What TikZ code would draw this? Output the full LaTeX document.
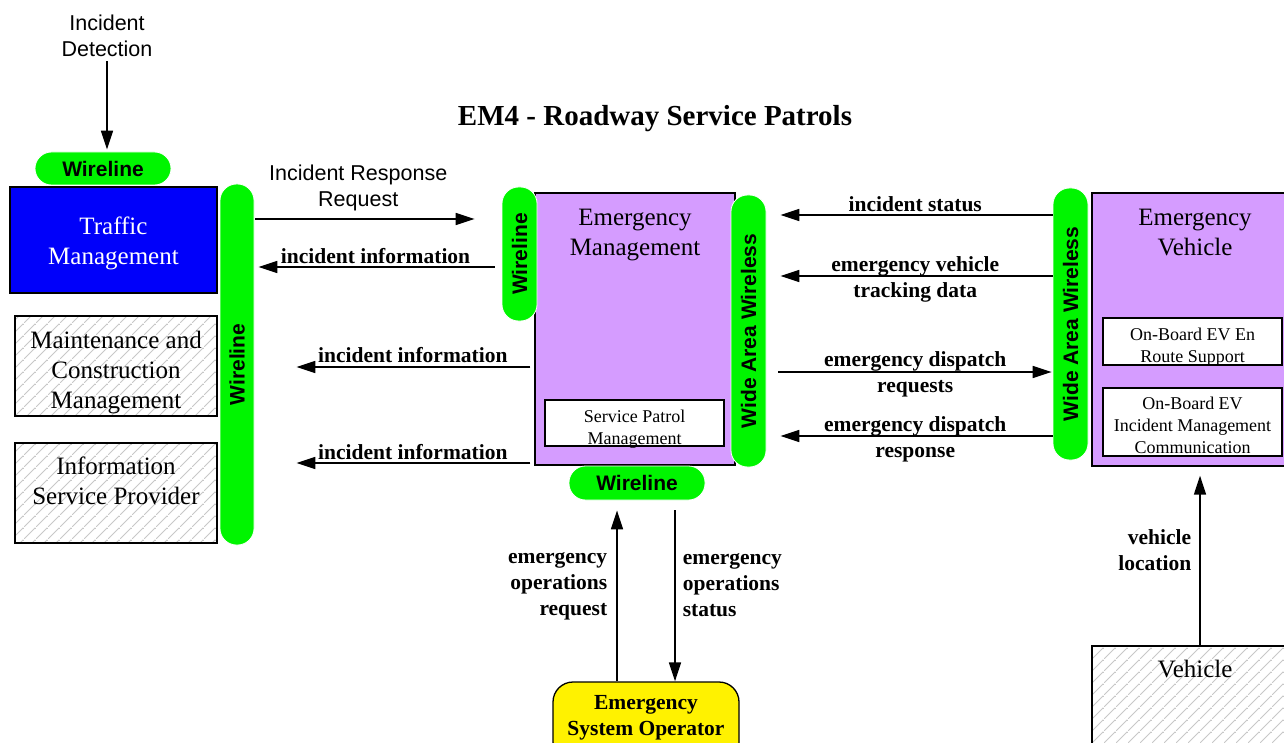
\documentclass[tikz,border=0pt]{standalone}
\usepackage{fontspec}
\setmainfont{Liberation Serif}
\newfontfamily\arialfont{Liberation Sans}
\usetikzlibrary{arrows.meta,patterns.meta,positioning}

\definecolor{busgreen}{RGB}{0,245,0}
\definecolor{tmblue}{RGB}{0,0,250}
\definecolor{sysviolet}{RGB}{213,156,255}
\definecolor{hatchgray}{RGB}{200,200,200}

\tikzdeclarepattern{
  name=hatch,
  type=colored,
  bottom left={(0pt,0pt)},
  top right={(12pt,12pt)},
  tile size={(12pt,12pt)},
  code={\draw[hatchgray,line width=1pt] (-1pt,-1pt) -- (13pt,13pt);}
}

\begin{document}
\begin{tikzpicture}[x=1pt,y=-1pt,>={Triangle[length=19pt,width=12pt]},
    box/.style={draw,line width=1.3pt,inner sep=0pt},
    sub/.style={draw,fill=white,line width=1.2pt,inner sep=0pt},
    hatched/.style={box,pattern=hatch},
    head/.style={inner sep=0pt,align=center,font=\fontsize{25}{30}\selectfont},
    small/.style={inner sep=0pt,align=center,font=\fontsize{18}{22}\selectfont},
    bus/.style={fill=busgreen,draw=white,line width=0.8pt,rounded corners=16.5pt,inner sep=0pt,
      font=\arialfont\bfseries\fontsize{21}{25}\selectfont},
    flow/.style={->,line width=1.6pt},
    lbl/.style={font=\bfseries\fontsize{21.5}{26}\selectfont,align=center,inner sep=0pt},
    sans/.style={font=\arialfont\fontsize{21.5}{26}\selectfont,align=center,inner sep=0pt}]
  \useasboundingbox (0,0) rectangle (1284,743);
  \clip (0,0) rectangle (1284,743);

  \node[font=\bfseries\fontsize{29}{34}\selectfont] (title) at (655,119) {EM4 - Roadway Service Patrols};

  \node[box,fill=tmblue,minimum width=207,minimum height=106,
    label={[head,text=white,yshift=-3pt]center:Traffic\\Management}] (tm) at (113.5,240) {};
  \node[hatched,minimum width=202,minimum height=100,
    label={[head,yshift=-7pt]center:Maintenance and\\Construction\\Management}] (mcm) at (116,366) {};
  \node[hatched,minimum width=202,minimum height=100,
    label={[head,anchor=north,yshift=-14pt]north:Information\\Service Provider}] (isp) at (116,493) {};

  \node[box,fill=sysviolet,minimum width=200,minimum height=272,
    label={[head,anchor=north,yshift=-16.5pt]north:Emergency\\Management}] (em) at (635,329) {};
  \node[sub,minimum width=179,minimum height=46,
    label={[small,yshift=-6pt]center:Service Patrol\\Management}] (spm) at (634.5,423) {};

  \node[box,fill=sysviolet,minimum width=206,minimum height=273,
    label={[head,anchor=north,yshift=-16.5pt]north:Emergency\\Vehicle}] (ev) at (1195,329.5) {};
  \node[sub,minimum width=179,minimum height=47,
    label={[small,yshift=-6pt]center:On-Board EV En\\Route Support}] (enr) at (1192.5,341.5) {};
  \node[sub,minimum width=179,minimum height=68,
    label={[small,yshift=-3.5pt]center:On-Board EV\\Incident Management\\Communication}] (imc) at (1192.5,422) {};

  \node[hatched,minimum width=206,minimum height=120,
    label={[head,anchor=north,yshift=-15pt]north:Vehicle}] (veh) at (1195,706) {};
  \node[draw,fill=yellow,line width=1.3pt,rounded corners=20pt,minimum width=186,minimum height=80,
    label={[lbl,anchor=north,yshift=-14pt]north:Emergency\\System Operator}] (eso) at (646,722) {};

  \node[bus,minimum width=136,minimum height=33] (tw) at (103,168.5) {Wireline};
  \node[bus,rotate=90,minimum width=361,minimum height=34] (lw) at (237,364.5) {Wireline};
  \node[bus,rotate=90,minimum width=134,minimum height=35] (ew) at (519.5,254) {Wireline};
  \node[bus,rotate=90,minimum width=272,minimum height=35] (ww) at (748.5,331) {Wide Area Wireless};
  \node[bus,minimum width=136,minimum height=34] (bw) at (637,483) {Wireline};
  \node[bus,rotate=90,minimum width=272,minimum height=35] (rw) at (1070.5,324) {Wide Area Wireless};

  \node[sans] (idet) at (107,36) {Incident\\Detection};
  \draw[flow,shorten <=4pt,shorten >=2pt] (idet.south) -- (idet.south |- tw.north);

  \draw[flow,shorten <=1pt,shorten >=27pt] (lw.south |- 0,219) --
    node[sans,pos=0.42,above=7pt] {Incident Response\\Request} (ew.north |- 0,219);
  \draw[flow,shorten <=7pt,shorten >=4pt] (ew.north |- 0,267) --
    node[lbl,pos=0.51,above=2pt] {incident information} (lw.south |- 0,267);
  \draw[flow,shorten <=4pt,shorten >=42pt] (em.west |- 0,367) --
    node[lbl,pos=0.434,above=3pt] {incident information} (lw.south |- 0,367);
  \draw[flow,shorten <=4pt,shorten >=42pt] (em.west |- 0,463) --
    node[lbl,pos=0.434,above=2pt] {incident information} (lw.south |- 0,463);

  \draw[flow,shorten >=14pt] (rw.north |- 0,215) --
    node[lbl,pos=0.48,above=2pt] {incident status} (ww.south |- 0,215);
  \draw[flow,shorten >=14pt] (rw.north |- 0,276) --
    node[lbl,pos=0.48,yshift=-3pt] {emergency vehicle\\tracking data} (ww.south |- 0,276);
  \draw[flow,shorten <=12pt,shorten >=1pt] (ww.south |- 0,372) --
    node[lbl,pos=0.52,yshift=-2pt] {emergency dispatch\\requests} (rw.north |- 0,372);
  \draw[flow,shorten >=14pt] (rw.north |- 0,436) --
    node[lbl,pos=0.48,yshift=-3pt] {emergency dispatch\\response} (ww.south |- 0,436);

  \draw[flow,shorten >=10pt] (eso.north -| 617,0) --
    node[lbl,align=right,pos=0.525,left=9pt] {emergency\\operations\\request} (bw.south -| 617,0);
  \draw[flow,shorten <=10pt] (bw.south -| 675,0) --
    node[lbl,align=left,pos=0.47,right=7pt] {emergency\\operations\\status} (eso.north -| 675,0);

  \draw[flow,shorten >=9pt] (veh.north -| 1200,0) --
    node[lbl,align=right,pos=0.53,left=8pt] {vehicle\\location} (ev.south -| 1200,0);
\end{tikzpicture}
\end{document}
